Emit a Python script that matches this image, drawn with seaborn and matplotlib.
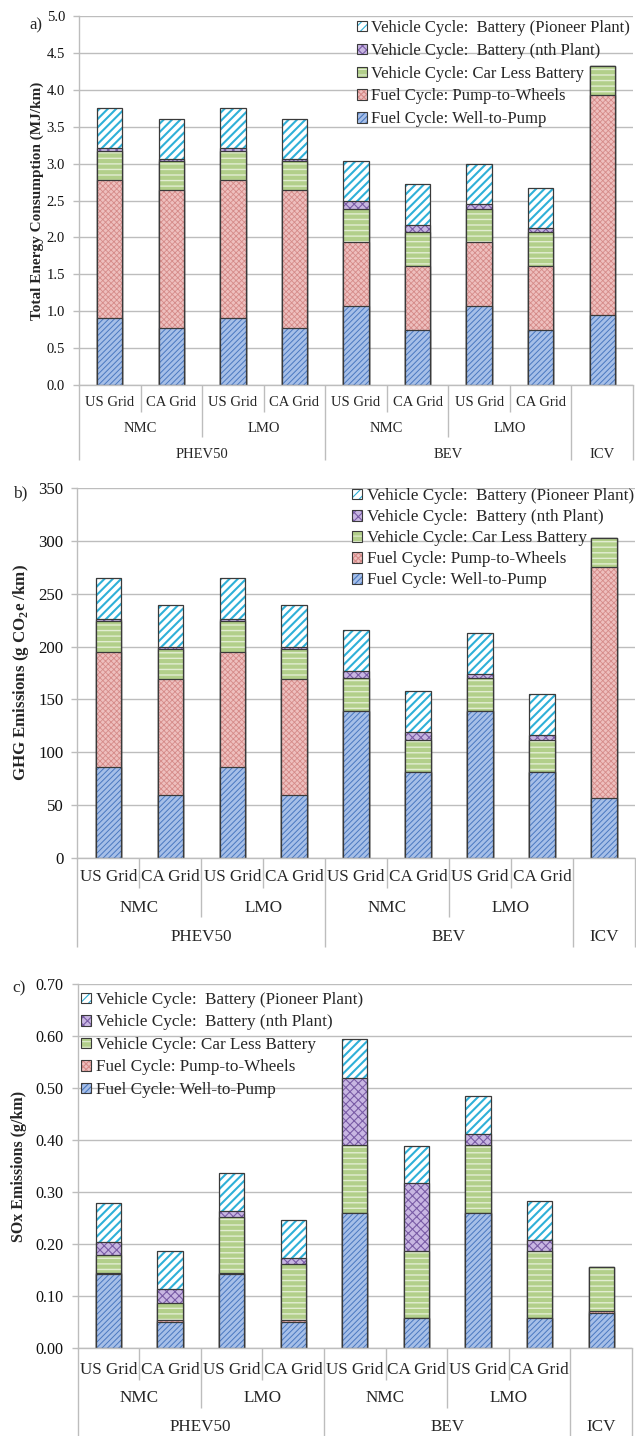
import numpy as np
import pandas as pd
import matplotlib
matplotlib.use("Agg")
import matplotlib.pyplot as plt
import matplotlib.transforms as mtransforms
from matplotlib.patches import Patch
from matplotlib.legend_handler import HandlerTuple
from matplotlib.ticker import FormatStrFormatter
import seaborn as sns

# ---------------- data ----------------
vehicles = ["PHEV50", "PHEV50", "PHEV50", "PHEV50", "BEV", "BEV", "BEV", "BEV", "ICV"]
chemistries = ["NMC", "NMC", "LMO", "LMO", "NMC", "NMC", "LMO", "LMO", ""]
grids = ["US Grid", "CA Grid", "US Grid", "CA Grid", "US Grid", "CA Grid", "US Grid", "CA Grid", ""]

series_labels = [  # bottom to top
    "Fuel Cycle: Well-to-Pump",
    "Fuel Cycle: Pump-to-Wheels",
    "Vehicle Cycle: Car Less Battery",
    "Vehicle Cycle:  Battery (nth Plant)",
    "Vehicle Cycle:  Battery (Pioneer Plant)",
]

# a) Total energy consumption (MJ/km)
energy_wtp = [0.91, 0.77, 0.91, 0.77, 1.07, 0.75, 1.07, 0.75, 0.95]
energy_ptw = [1.87, 1.87, 1.87, 1.87, 0.87, 0.86, 0.87, 0.86, 2.98]
energy_car = [0.39, 0.39, 0.39, 0.39, 0.45, 0.46, 0.45, 0.46, 0.39]
energy_nth = [0.04, 0.03, 0.04, 0.03, 0.11, 0.10, 0.06, 0.06, 0.00]
energy_pioneer = [0.54, 0.55, 0.54, 0.55, 0.53, 0.55, 0.54, 0.54, 0.00]

# b) GHG emissions (g CO2e/km)
ghg_wtp = [86, 60, 86, 60, 139, 81, 139, 81, 57]
ghg_ptw = [109, 109, 109, 109, 0, 0, 0, 0, 218]
ghg_car = [29, 29, 29, 29, 31, 31, 31, 31, 28]
ghg_nth = [2, 2, 2, 2, 7, 7, 4, 4, 0]
ghg_pioneer = [39, 39, 39, 39, 39, 39, 39, 39, 0]

# c) SOx emissions (g/km)
sox_wtp = [0.142, 0.051, 0.142, 0.051, 0.261, 0.058, 0.261, 0.058, 0.067]
sox_ptw = [0.003, 0.003, 0.003, 0.003, 0.0, 0.0, 0.0, 0.0, 0.004]
sox_car = [0.034, 0.034, 0.108, 0.108, 0.130, 0.129, 0.130, 0.130, 0.086]
sox_nth = [0.026, 0.027, 0.011, 0.011, 0.128, 0.130, 0.021, 0.020, 0.0]
sox_pioneer = [0.074, 0.073, 0.074, 0.074, 0.075, 0.073, 0.074, 0.075, 0.0]

bar_ids = [f"{v}|{c}|{g}|{i}" for i, (v, c, g) in enumerate(zip(vehicles, chemistries, grids))]

# ---------------- style ----------------
sns.set_style("white")
plt.rcParams["font.family"] = ["Liberation Serif", "DejaVu Serif"]
plt.rcParams["mathtext.fontset"] = "custom"
plt.rcParams["mathtext.rm"] = "Liberation Serif"
plt.rcParams["mathtext.bf"] = "Liberation Serif:bold"
plt.rcParams["hatch.linewidth"] = 0.8

GRID = "#bdbdbd"
EDGE = "#3a3a3a"
BAR_W = 0.41

STYLES = [  # face, hatch, hatch colour, hatch linewidth (bottom to top)
    ("#a6bfe8", "//////", "#4a78c0", 0.7),
    ("#eebfbe", "xxxxxx", "#d58b89", 0.6),
    ("#b2cf8a", "---", "#e2edd2", 1.0),
    ("#c8b6e2", "xxxx", "#7a5ca6", 0.8),
    ("#ffffff", "////", "#2fb0d8", 1.5),
]

W, H = 636, 1436
fig = plt.figure(figsize=(W / 100, H / 100), dpi=100)


def add_axes(left, right, top, bottom):
    return fig.add_axes([left / W, 1 - bottom / H, (right - left) / W, (bottom - top) / H])


def draw_panel(ax, segments):
    cum = np.cumsum(np.array(segments, dtype=float), axis=0)
    df = pd.DataFrame({"bar": bar_ids})
    for k in range(len(segments) - 1, -1, -1):
        df["val"] = cum[k]
        face, hatch, hcol, hlw = STYLES[k]
        with plt.rc_context({"hatch.linewidth": hlw}):
            sns.barplot(data=df, x="bar", y="val", order=bar_ids, color=face, saturation=1,
                        width=BAR_W, hatch=hatch, edgecolor=hcol, linewidth=0,
                        errorbar=None, ax=ax)
        sns.barplot(data=df, x="bar", y="val", order=bar_ids, color=EDGE, fill=False,
                    width=BAR_W, linewidth=0.9, errorbar=None, ax=ax)


def style_axes(ax, ymax, step, fmt, tick_fs):
    ax.set_ylim(0, ymax)
    ax.set_xlim(-0.5, len(bar_ids) - 0.5)
    ax.set_yticks(np.arange(0, ymax + step / 2, step))
    ax.yaxis.set_major_formatter(FormatStrFormatter(fmt))
    ax.yaxis.grid(True, color=GRID, linewidth=1)
    ax.xaxis.grid(False)
    ax.set_axisbelow(True)
    for s in ["top", "right"]:
        ax.spines[s].set_visible(False)
    for s in ["left", "bottom"]:
        ax.spines[s].set_color(GRID)
        ax.spines[s].set_linewidth(1)
    ax.set_xticks([])
    ax.set_xlabel("")
    ax.tick_params(axis="y", direction="out", length=4, width=1, color=GRID,
                   labelsize=tick_fs, pad=6, labelcolor="#111111", left=True)


def category_table(ax, rows, fs, height_px):
    r1, e1, r2, e2, r3, e3 = rows
    trans = mtransforms.blended_transform_factory(ax.transData, ax.transAxes)
    fy = lambda px: -px / height_px
    n = len(bar_ids)
    for i, g in enumerate(grids):
        if g:
            ax.text(i, fy(r1), g, transform=trans, ha="center", va="center",
                    fontsize=fs, clip_on=False)
    i = 0
    while i < n:
        j = i
        while j + 1 < n and chemistries[j + 1] == chemistries[i] and vehicles[j + 1] == vehicles[i]:
            j += 1
        if chemistries[i]:
            ax.text((i + j) / 2, fy(r2), chemistries[i], transform=trans, ha="center",
                    va="center", fontsize=fs, clip_on=False)
        i = j + 1
    i = 0
    while i < n:
        j = i
        while j + 1 < n and vehicles[j + 1] == vehicles[i]:
            j += 1
        ax.text((i + j) / 2, fy(r3), vehicles[i], transform=trans, ha="center",
                va="center", fontsize=fs, clip_on=False)
        i = j + 1
    for b in range(n + 1):
        if b == 0 or b == n or vehicles[b] != vehicles[b - 1]:
            end = e3
        elif chemistries[b] != chemistries[b - 1]:
            end = e2
        else:
            end = e1
        ax.plot([b - 0.5, b - 0.5], [0, fy(end)], transform=trans, color=GRID,
                lw=1, clip_on=False, solid_capstyle="butt")


def add_legend(ax, x_px, top_px, fs, spacing):
    handles = []
    for k in range(len(series_labels) - 1, -1, -1):
        face, hatch, hcol, hlw = STYLES[k]
        with plt.rc_context({"hatch.linewidth": min(hlw, 1.0)}):
            p1 = Patch(facecolor=face, edgecolor=hcol, hatch=hatch, linewidth=0)
        p2 = Patch(facecolor="none", edgecolor=EDGE, linewidth=0.8)
        handles.append((p1, p2))
    labels = series_labels[::-1]
    ax.legend(handles, labels, handler_map={tuple: HandlerTuple(ndivide=1, pad=0)},
              loc="upper left", bbox_to_anchor=(x_px / W, 1 - top_px / H),
              bbox_transform=fig.transFigure, frameon=False, borderpad=0,
              borderaxespad=0, handlelength=0.6, handleheight=0.6,
              handletextpad=0.25, labelspacing=spacing, fontsize=fs)


# ---------------- panel a ----------------
axa = add_axes(79, 633, 16, 385)
draw_panel(axa, [energy_wtp, energy_ptw, energy_car, energy_nth, energy_pioneer])
style_axes(axa, 5.0, 0.5, "%.1f", 10.5)
axa.set_ylabel("Total Energy Consumption (MJ/km)", fontsize=11, fontweight="bold")
axa.yaxis.set_label_coords(-(79 - 44) / (633 - 79), 0.5)
category_table(axa, (17.7, 26.7, 44, 51.7, 69, 75), 10.5, 369)
add_legend(axa, 357, 20, 12, 0.41)
fig.text(29 / W, 1 - 25 / H, "a)", fontsize=12, va="center", ha="left")

# ---------------- panel b ----------------
axb = add_axes(77.3, 635, 488, 858)
draw_panel(axb, [ghg_wtp, ghg_ptw, ghg_car, ghg_nth, ghg_pioneer])
style_axes(axb, 350, 50, "%d", 12.2)
axb.set_ylabel(r"GHG Emissions (g CO$_\mathbf{2}$e /km)", fontsize=12.2, fontweight="bold")
axb.yaxis.set_label_coords(-(77.3 - 31) / (635 - 77.3), 0.5)
category_table(axb, (18.7, 30, 50, 58.7, 79, 88.7), 12.3, 370)
add_legend(axb, 352, 488, 12.3, 0.30)
fig.text(12.7 / W, 1 - 493 / H, "b)", fontsize=12.5, va="center", ha="left")

# ---------------- panel c ----------------
axc = add_axes(77.5, 632, 984.3, 1348.3)
draw_panel(axc, [sox_wtp, sox_ptw, sox_car, sox_nth, sox_pioneer])
style_axes(axc, 0.70, 0.10, "%.2f", 11.6)
axc.set_ylabel("SOx Emissions (g/km)", fontsize=11.5, fontweight="bold")
axc.yaxis.set_label_coords(-(77.5 - 27) / (632 - 77.5), 0.5)
category_table(axc, (21.7, 31.7, 49.7, 59.7, 78.4, 90), 12.3, 364)
add_legend(axc, 81, 992, 12.3, 0.38)
fig.text(12.7 / W, 1 - 988 / H, "c)", fontsize=12.5, va="center", ha="left")

fig.savefig("out.png", dpi=100)
